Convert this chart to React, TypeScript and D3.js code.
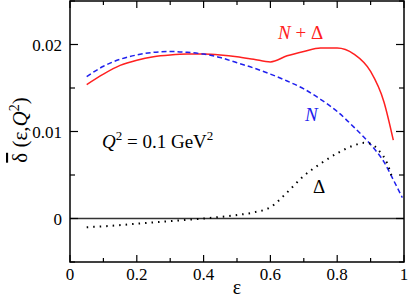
import React from "react";
import * as d3 from "d3";

const W = 411;
const H = 300;
const M = { left: 70, right: 7, top: 1, bottom: 38 };

// N + Delta (red, solid)
const sumEps = [0.05, 0.1, 0.15, 0.2, 0.25, 0.3, 0.35, 0.4, 0.45, 0.5, 0.55, 0.6, 0.65, 0.7, 0.75, 0.8, 0.85, 0.9, 0.94, 0.968];
const sumVals = [0.0154, 0.0166, 0.0176, 0.0182, 0.0186, 0.0188, 0.0189, 0.0189, 0.0188, 0.0186, 0.0183, 0.018, 0.0187, 0.0192, 0.0196, 0.0196, 0.0189, 0.0169, 0.0134, 0.009];

// N (blue, dashed)
const nEps = [0.05, 0.1, 0.15, 0.2, 0.25, 0.3, 0.35, 0.4, 0.45, 0.5, 0.55, 0.6, 0.65, 0.7, 0.75, 0.8, 0.85, 0.9, 0.94, 0.97, 0.995];
const nVals = [0.0163, 0.0175, 0.0183, 0.0188, 0.0191, 0.0192, 0.0191, 0.0189, 0.0185, 0.0179, 0.0173, 0.0166, 0.0158, 0.0149, 0.0137, 0.0123, 0.0105, 0.0085, 0.0065, 0.0043, 0.0024];

// Delta (black, dotted)
const dEps = [0.05, 0.1, 0.2, 0.3, 0.4, 0.5, 0.55, 0.6, 0.65, 0.7, 0.75, 0.8, 0.85, 0.88, 0.9, 0.925, 0.95, 0.966];
const dVals = [-0.001, -0.0009, -0.0006, -0.0003, 0.0, 0.0004, 0.0007, 0.0013, 0.003, 0.0049, 0.0063, 0.0075, 0.0084, 0.0087, 0.0086, 0.0078, 0.0063, 0.0045];

const xMajor = [0, 0.2, 0.4, 0.6, 0.8, 1];
const xMinor = [0.1, 0.3, 0.5, 0.7, 0.9];
const yMajor = [0, 0.01, 0.02];
const yMinor = [-0.005, 0.005, 0.015, 0.025];

const FONT = "Liberation Serif, Times New Roman, serif";

export default function App() {
  const x = d3.scaleLinear().domain([0, 1]).range([M.left, W - M.right]);
  const y = d3.scaleLinear().domain([-0.005, 0.025]).range([H - M.bottom, M.top]);

  const line = d3
    .line<[number, number]>()
    .x((d) => x(d[0]))
    .y((d) => y(d[1]))
    .curve(d3.curveMonotoneX);

  const zip = (a: number[], b: number[]) => a.map((v, i) => [v, b[i]] as [number, number]);

  const x0 = x(0), x1 = x(1), yb = y(-0.005), yt = y(0.025);

  return (
    <svg width={W} height={H} style={{ position: "absolute", left: 0, top: 0, fontFamily: FONT }}>
      {/* zero line */}
      <line x1={x0} x2={x1} y1={y(0)} y2={y(0)} stroke="#333" strokeWidth={1.5} />

      <path d={line(zip(sumEps, sumVals)) || ""} fill="none" stroke="#ff2020" strokeWidth={1.5} />
      <path d={line(zip(nEps, nVals)) || ""} fill="none" stroke="#2020ee" strokeWidth={1.5} strokeDasharray="5,3" />
      <path d={line(zip(dEps, dVals)) || ""} fill="none" stroke="#000" strokeWidth={2} strokeDasharray="1.5,5" />

      {/* frame */}
      <rect x={x0} y={yt} width={x1 - x0} height={yb - yt} fill="none" stroke="#000" strokeWidth={1.5} />

      {/* x ticks */}
      {xMajor.map((t) => (
        <g key={"xm" + t}>
          <line x1={x(t)} x2={x(t)} y1={yb} y2={yb - 7} stroke="#000" strokeWidth={1.2} />
          <line x1={x(t)} x2={x(t)} y1={yt} y2={yt + 7} stroke="#000" strokeWidth={1.2} />
          <text x={x(t)} y={280} textAnchor="middle" fontSize={17}>{String(t)}</text>
        </g>
      ))}
      {xMinor.map((t) => (
        <g key={"xn" + t}>
          <line x1={x(t)} x2={x(t)} y1={yb} y2={yb - 4} stroke="#000" strokeWidth={1.2} />
          <line x1={x(t)} x2={x(t)} y1={yt} y2={yt + 4} stroke="#000" strokeWidth={1.2} />
        </g>
      ))}

      {/* y ticks */}
      {yMajor.map((t) => (
        <g key={"ym" + t}>
          <line x1={x0} x2={x0 + 8} y1={y(t)} y2={y(t)} stroke="#000" strokeWidth={1.2} />
          <line x1={x1} x2={x1 - 8} y1={y(t)} y2={y(t)} stroke="#000" strokeWidth={1.2} />
          <text x={62} y={y(t) + 6} textAnchor="end" fontSize={17}>{t === 0 ? "0" : t.toFixed(2)}</text>
        </g>
      ))}
      {yMinor.map((t) => (
        <g key={"yn" + t}>
          <line x1={x0} x2={x0 + 5} y1={y(t)} y2={y(t)} stroke="#000" strokeWidth={1.2} />
          <line x1={x1} x2={x1 - 5} y1={y(t)} y2={y(t)} stroke="#000" strokeWidth={1.2} />
        </g>
      ))}

      {/* axis titles */}
      <text x={237} y={294} textAnchor="middle" fontSize={20}>ε</text>
      <text transform="translate(27,130) rotate(-90)" textAnchor="middle" fontSize={21}>
        <tspan style={{ textDecoration: "overline" }}>δ</tspan>
        <tspan> (ε,</tspan>
        <tspan fontStyle="italic">Q</tspan>
        <tspan dy={-8} fontSize={14}>2</tspan>
        <tspan dy={8}>)</tspan>
      </text>

      {/* annotations */}
      <text x={278} y={39} fill="#ff2020" fontSize={19}>
        <tspan fontStyle="italic">N</tspan> + Δ
      </text>
      <text x={305} y={121} fill="#2020ee" fontSize={19} fontStyle="italic">N</text>
      <text x={102} y={148} fontSize={19}>
        <tspan fontStyle="italic">Q</tspan>
        <tspan dy={-8} fontSize={13}>2</tspan>
        <tspan dy={8}> = 0.1 GeV</tspan>
        <tspan dy={-8} fontSize={13}>2</tspan>
      </text>
      <text x={313} y={193} fontSize={19}>Δ</text>
    </svg>
  );
}
